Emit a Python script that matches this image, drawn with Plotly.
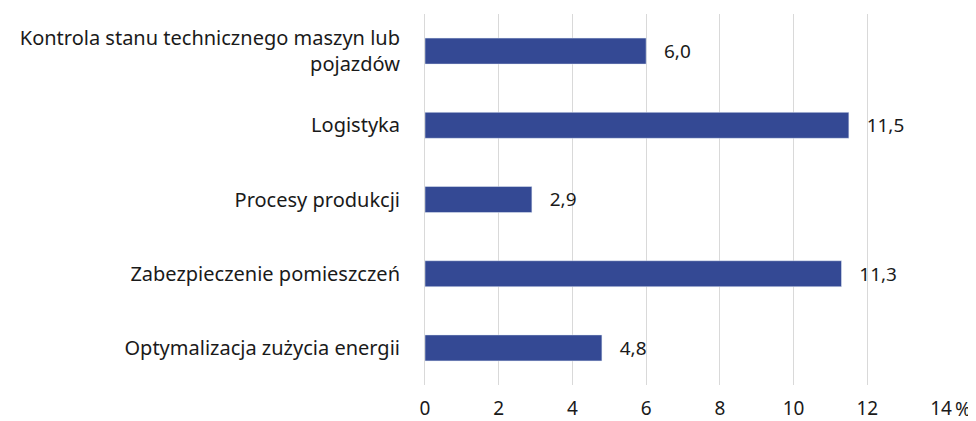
import plotly.graph_objects as go

categories = [
    "Kontrola stanu technicznego maszyn lub<br>pojazdów",
    "Logistyka",
    "Procesy produkcji",
    "Zabezpieczenie pomieszczeń",
    "Optymalizacja zużycia energii",
]
values = [6.0, 11.5, 2.9, 11.3, 4.8]
tick_vals = [0, 2, 4, 6, 8, 10, 12, 14]

labels = ["\u00a0\u00a0\u00a0" + f"{v:.1f}".replace(".", ",") for v in values]

fig = go.Figure(
    go.Bar(
        x=values,
        y=categories,
        orientation="h",
        marker=dict(color="#344994"),
        width=0.35,
        text=labels,
        textposition="outside",
        textfont=dict(size=19, color="#1a1a1a"),
        cliponaxis=False,
    )
)

# page body adds an 8px margin, so the figure is sized to the remaining area
fig.update_layout(
    width=968,
    height=413,
    margin=dict(l=417, r=35, t=6, b=36),
    paper_bgcolor="white",
    plot_bgcolor="white",
    font=dict(family="Noto Sans", size=20, color="#1a1a1a"),
    showlegend=False,
)
fig.update_xaxes(
    range=[0, 14],
    tickvals=tick_vals,
    showgrid=True,
    gridcolor="#d9d9d9",
    gridwidth=1,
    zeroline=False,
    showline=False,
    ticks="",
    tickfont=dict(size=19),
    ticklabelstandoff=10,
    automargin=False,
)
fig.update_yaxes(
    autorange="reversed",
    showgrid=False,
    showline=True,
    linecolor="#d9d9d9",
    ticks="",
    ticklabelstandoff=20,
    automargin=False,
)
fig.add_annotation(
    text="%",
    xref="paper",
    yref="paper",
    x=1.043,
    y=-0.066,
    xanchor="center",
    yanchor="middle",
    borderpad=0,
    showarrow=False,
    font=dict(size=19, color="#1a1a1a"),
)

fig.write_html("out.html")
